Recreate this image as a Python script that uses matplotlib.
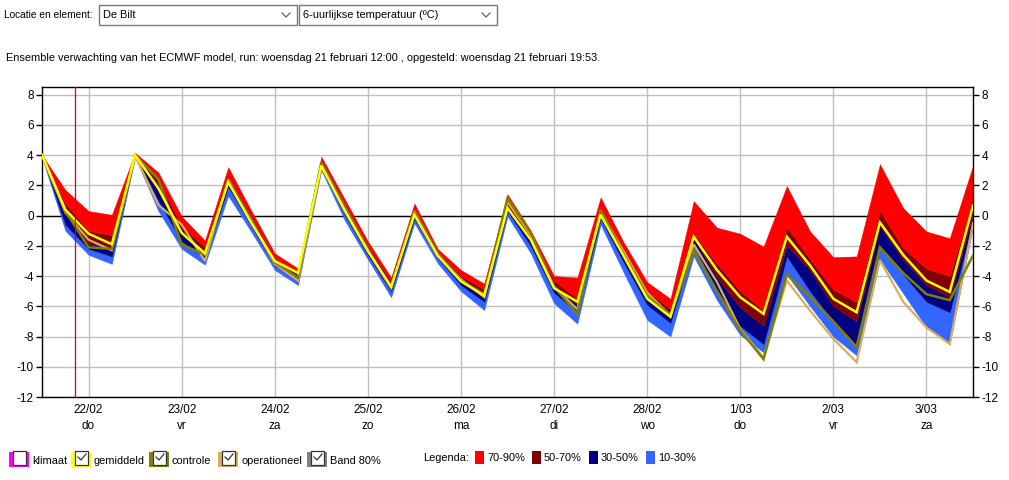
import matplotlib
matplotlib.use("Agg")
import matplotlib.pyplot as plt
import matplotlib.patches as mpatches
from matplotlib.lines import Line2D
import pandas as pd

# ---------------- data ----------------
run_start = "2018-02-21 12:00"
n_steps = 41
now_time = "2018-02-21 20:30"

p90 = [4.0, 1.7, 0.3, 0.05, 4.15, 2.85, -0.05, -1.65, 3.2, 0.3, -2.5, -3.5, 3.9, 1.1, -1.7, -4.1, 0.8,
       -2.2, -3.6, -4.5, 1.4, -1.0, -4.0, -4.1, 1.2, -1.8, -4.4, -5.5, 0.95, -0.8, -1.2, -2.05, 1.95,
       -1.05, -2.75, -2.7, 3.4, 0.5, -1.05, -1.5, 3.3]
p70 = [4.0, 0.8, -1.0, -1.3, 4.05, 2.3, -0.7, -2.1, 2.6, -0.1, -2.8, -3.7, 3.6, 0.7, -2.0, -4.4, 0.4,
       -2.4, -4.0, -4.9, 0.9, -1.3, -4.3, -5.5, 0.4, -2.3, -5.0, -6.2, -1.2, -3.2, -5.0, -6.3, -0.75,
       -2.9, -4.9, -5.7, 0.3, -2.15, -3.5, -4.0, 1.1]
p50 = [4.0, 0.1, -1.9, -2.05, 4.0, 1.7, -1.2, -2.4, 2.3, -0.4, -3.0, -3.9, 3.4, 0.4, -2.3, -4.7, 0.1,
       -2.6, -4.3, -5.3, 0.6, -1.6, -4.7, -5.9, 0.1, -2.7, -5.4, -6.6, -1.5, -4.1, -6.1, -7.3, -2.0,
       -3.6, -6.0, -7.0, -0.7, -2.9, -4.6, -5.4, 0.1]
p30 = [3.95, -0.6, -2.2, -2.7, 3.95, 1.0, -1.7, -2.8, 1.9, -0.7, -3.3, -4.2, 3.2, 0.1, -2.6, -5.0, -0.2,
       -2.8, -4.6, -5.7, 0.3, -2.0, -5.1, -6.4, -0.2, -3.1, -5.9, -7.1, -2.0, -4.9, -7.3, -8.5, -2.7,
       -5.0, -7.0, -8.6, -2.0, -3.9, -5.7, -6.4, -0.3]
p10 = [3.85, -1.0, -2.6, -3.2, 3.85, 0.3, -2.2, -3.25, 1.3, -1.1, -3.6, -4.6, 3.0, -0.3, -2.9, -5.4, -0.5,
       -3.15, -5.0, -6.25, -0.05, -2.5, -5.8, -7.15, -0.6, -3.8, -6.9, -8.0, -2.7, -5.6, -7.9, -9.05, -3.9,
       -6.0, -8.0, -9.25, -2.9, -5.15, -7.4, -8.5, -0.7]
gemiddeld = [4.0, 0.4, -1.2, -1.9, 4.0, 1.8, -1.15, -2.5, 2.2, -0.5, -3.0, -3.8, 3.3, 0.35, -2.35, -4.7, 0.05,
             -2.65, -4.35, -5.3, 0.5, -1.6, -4.8, -5.7, 0.05, -2.7, -5.5, -6.7, -1.4, -3.6, -5.4, -6.5, -1.4,
             -3.3, -5.5, -6.4, -0.45, -2.6, -4.3, -5.05, 0.65]
controle = [4.0, 0.3, -2.1, -2.2, 4.0, 2.4, -1.9, -2.6, 2.3, -0.3, -3.1, -4.1, 3.5, 0.6, -2.2, -4.8, 0.3,
            -2.5, -4.3, -5.2, 1.15, -1.15, -4.7, -6.5, 0.4, -2.6, -5.3, -6.6, -2.35, -5.0, -7.6, -9.5, -3.9,
            -5.4, -7.0, -8.7, -2.1, -3.8, -5.2, -5.6, -2.65]
operationeel = [4.0, 0.2, -1.6, -2.3, 3.95, 0.7, -0.6, -3.0, 2.4, -0.4, -3.2, -4.3, 3.3, 0.4, -2.3, -4.8, 0.3,
                -2.6, -4.2, -5.4, 0.9, -1.3, -4.7, -6.2, 0.3, -2.4, -5.1, -6.6, -1.9, -4.4, -7.5, -9.4, -4.3,
                -6.3, -8.15, -9.7, -2.95, -5.7, -7.4, -8.5, -0.5]

y_ticks = [-12, -10, -8, -6, -4, -2, 0, 2, 4, 6, 8]
weekday_nl = ["ma", "di", "wo", "do", "vr", "za", "zo"]

band_labels = ["70-90%", "50-70%", "30-50%", "10-30%"]
band_colors = ["#FF0000", "#800000", "#000080", "#3366FF"]
check_labels = ["klimaat", "gemiddeld", "controle", "operationeel", "Band 80%"]
check_colors = ["#FF00FF", "#FFFF00", "#808000", "#D8AE58", "#808080"]
check_state = [False, True, True, True, True]

header_label = "Locatie en element:"
loc_choice = "De Bilt"
elem_choice = "6-uurlijkse temperatuur (ºC)"
subtitle = ("Ensemble verwachting van het ECMWF model, run: woensdag 21 februari 12:00 , "
            "opgesteld: woensdag 21 februari 19:53.")

# ---------------- figure ----------------
FONT = "Liberation Sans"
plt.rcParams["font.family"] = [FONT, "DejaVu Sans"]
W, H = 1009, 480
fig = plt.figure(figsize=(W / 100, H / 100), dpi=100)

def fx(x):
    return x / W

def fy(y):
    return 1 - y / H

ax = fig.add_axes([fx(42), fy(397), fx(973) - fx(42), fy(87) - fy(397)])

times = pd.date_range(run_start, periods=n_steps, freq="6h")
levels = [p10, p30, p50, p70, p90]
fill_colors = band_colors[::-1]
for lo, hi, c in zip(levels[:-1], levels[1:], fill_colors):
    ax.fill_between(times, lo, hi, color=c, linewidth=0.3, edgecolor=c, zorder=2)

ax.plot(times, operationeel, color="#D8AE58", lw=1.6, zorder=3, solid_joinstyle="miter")
ax.plot(times, controle, color="#808000", lw=1.8, zorder=4, solid_joinstyle="miter")
ax.plot(times, gemiddeld, color="#FFFF00", lw=1.8, zorder=5, solid_joinstyle="miter")

ax.axhline(0, color="black", lw=1.0, zorder=1.5)
ax.axvline(pd.Timestamp(now_time), color="#E00000", lw=0.9, zorder=6)

ax.set_xlim(times[0], times[-1])
ax.set_ylim(-12, 8.5)

days = pd.date_range("2018-02-22", "2018-03-03", freq="D")
ax.set_xticks(days)
ax.set_xticklabels([f"{d.day}/{d.month:02d}\n{weekday_nl[d.weekday()]}" for d in days],
                   fontsize=8.5, linespacing=1.45)
ax.set_yticks(y_ticks)
ax.set_yticklabels([str(v) for v in y_ticks], fontsize=8.5)
ax.tick_params(axis="x", length=0, pad=5)
ax.tick_params(axis="y", length=4, width=1, direction="out", pad=2,
               left=True, right=True, labelleft=True, labelright=True)
ax.grid(True, color="#C0C0C0", lw=1.0, zorder=0)
ax.set_axisbelow(True)
for s in ax.spines.values():
    s.set_color("black")
    s.set_linewidth(1.0)

# ---------------- header ----------------
fs = 7.9
fig.text(fx(4), fy(15), header_label, fontsize=7.3, va="center", ha="left")
for (x0, x1, txt) in [(99, 297, loc_choice), (299, 497, elem_choice)]:
    fig.patches.append(mpatches.Rectangle((fx(x0), fy(25)), fx(x1) - fx(x0), fy(5) - fy(25),
                                          transform=fig.transFigure, facecolor="white",
                                          edgecolor="#7A7A7A", lw=1.0))
    fig.text(fx(x0 + 4), fy(15), txt, fontsize=fs, va="center", ha="left")
    cx = x1 - 11
    fig.lines.append(Line2D([fx(cx - 4), fx(cx), fx(cx + 4)], [fy(13), fy(17), fy(13)],
                            transform=fig.transFigure, color="#606060", lw=0.9))
fig.text(fx(6), fy(58), subtitle, fontsize=fs, va="center", ha="left")

# ---------------- bottom legend ----------------
item_x = [9, 71, 149, 218, 307]
text_x = [32, 94, 172, 241, 330]
for x0, tx, lab, col, chk in zip(item_x, text_x, check_labels, check_colors, check_state):
    fig.patches.append(mpatches.Rectangle((fx(x0), fy(467)), fx(20), fy(452) - fy(467),
                                          transform=fig.transFigure, facecolor=col, edgecolor="none"))
    fig.patches.append(mpatches.Rectangle((fx(x0 + 4), fy(465)), fx(13), fy(451) - fy(465),
                                          transform=fig.transFigure, facecolor="white",
                                          edgecolor="#333333", lw=0.9))
    if chk:
        fig.lines.append(Line2D([fx(x0 + 7), fx(x0 + 10), fx(x0 + 15)], [fy(457), fy(460), fy(454)],
                                transform=fig.transFigure, color="#333333", lw=0.9))
    fig.text(fx(tx), fy(461), lab, fontsize=fs, va="center", ha="left")

fig.text(fx(423), fy(458), "Legenda:", fontsize=fs, va="center", ha="left")
sq_x = [475, 532, 589, 646]
for sx, lab, col in zip(sq_x, band_labels, band_colors):
    fig.patches.append(mpatches.Rectangle((fx(sx), fy(464)), fx(9), fy(451) - fy(464),
                                          transform=fig.transFigure, facecolor=col, edgecolor="none"))
    fig.text(fx(sx + 12), fy(458), lab, fontsize=fs, va="center", ha="left")

fig.savefig("out.png", dpi=100)
